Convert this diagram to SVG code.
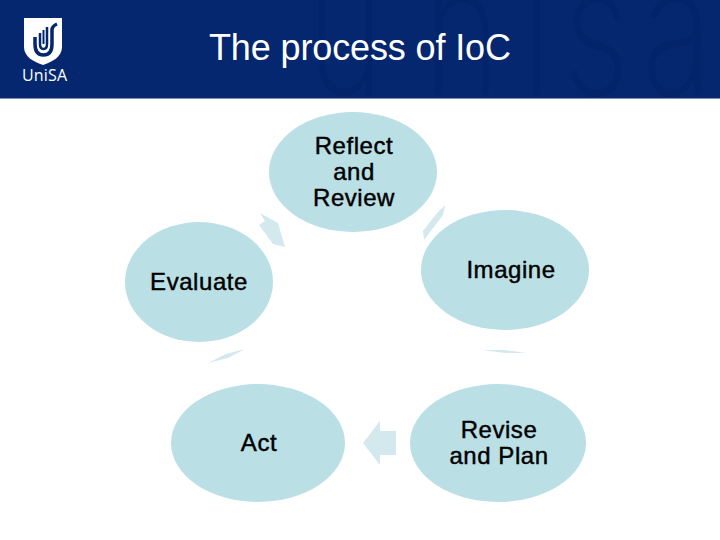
<svg xmlns="http://www.w3.org/2000/svg" width="720" height="540" viewBox="0 0 720 540">
<style>
.node{fill:#badfe5}
.arrow{fill:#d3e9ed}
.label{font-family:"Liberation Sans",Arial,sans-serif;font-size:24px;letter-spacing:.55px;fill:#000;text-anchor:middle;stroke:#000;stroke-width:.45}
.mark{font-family:Inter,"Liberation Sans",sans-serif;font-weight:200;font-size:180px;fill:#03236a}
.logo{fill:none;stroke:#03266c}
</style>
<rect width="720" height="540" fill="#fff"/>
<g id="header">
<rect width="720" height="98.500" fill="#04276f"/>
<svg x="0" y="0" width="720" height="98.500" viewBox="0 0 720 98.500">
<text class="mark" transform="scale(.72 1)" y="95"><tspan x="427">u</tspan><tspan x="589">n</tspan><tspan x="725">i</tspan><tspan x="783">s</tspan><tspan x="892">a</tspan></text>
</svg>
<path d="M24 18H62V47C62 57 52 62 43 65C34 62 24 57 24 47Z" fill="#fff"/>
<path class="logo" d="M35 37V44C35 51 38 55 43.500 55C49 55 52 51 52 44V30Q52 26 57 24" stroke-width="3.500"/>
<path class="logo" d="M40 33V44C40 47 41 49 43.500 49C46 49 47 47 47 44V27" stroke-width="2.500"/>
<path class="logo" d="M43.500 30V44" stroke-width="2"/>
<text x="22" y="81" font-family="'Open Sans','Liberation Sans',sans-serif" font-size="16" fill="#fff" textLength="45">UniSA</text>
<text x="360" y="60" text-anchor="middle" font-family="'Liberation Sans',Arial,sans-serif" font-size="36" fill="#fff" textLength="302">The process of IoC</text>
</g>
<g id="connectors">
<polygon class="arrow" points="260,213 278,223 285,247 273,244 259,225 265,221"/>
<polygon class="arrow" points="445,205 443,215 424,240 423,231 437,213"/>
<polygon class="arrow" points="483,350 505,350 527,353 505,353"/>
<polygon class="arrow" points="396,431 380,431 380,421 363,443 380,465 380,455 396,455"/>
<polygon class="arrow" points="245,349 226,354 208,363 228,358"/>
</g>
<g id="reflect"><ellipse class="node" cx="353" cy="172" rx="84" ry="60"/>
<text class="label"><tspan x="354" y="154">Reflect</tspan><tspan x="354" y="180">and</tspan><tspan x="354" y="206">Review</tspan></text></g>
<g id="imagine"><ellipse class="node" cx="505" cy="270" rx="84" ry="60"/>
<text class="label" x="511" y="278">Imagine</text></g>
<g id="revise"><ellipse class="node" cx="498" cy="443" rx="88" ry="59"/>
<text class="label"><tspan x="499" y="438">Revise</tspan><tspan x="499" y="464">and Plan</tspan></text></g>
<g id="act"><ellipse class="node" cx="258" cy="443" rx="87" ry="59"/>
<text class="label" x="259" y="451">Act</text></g>
<g id="evaluate"><ellipse class="node" cx="199" cy="282" rx="74" ry="60"/>
<text class="label" x="199" y="290">Evaluate</text></g>
</svg>
